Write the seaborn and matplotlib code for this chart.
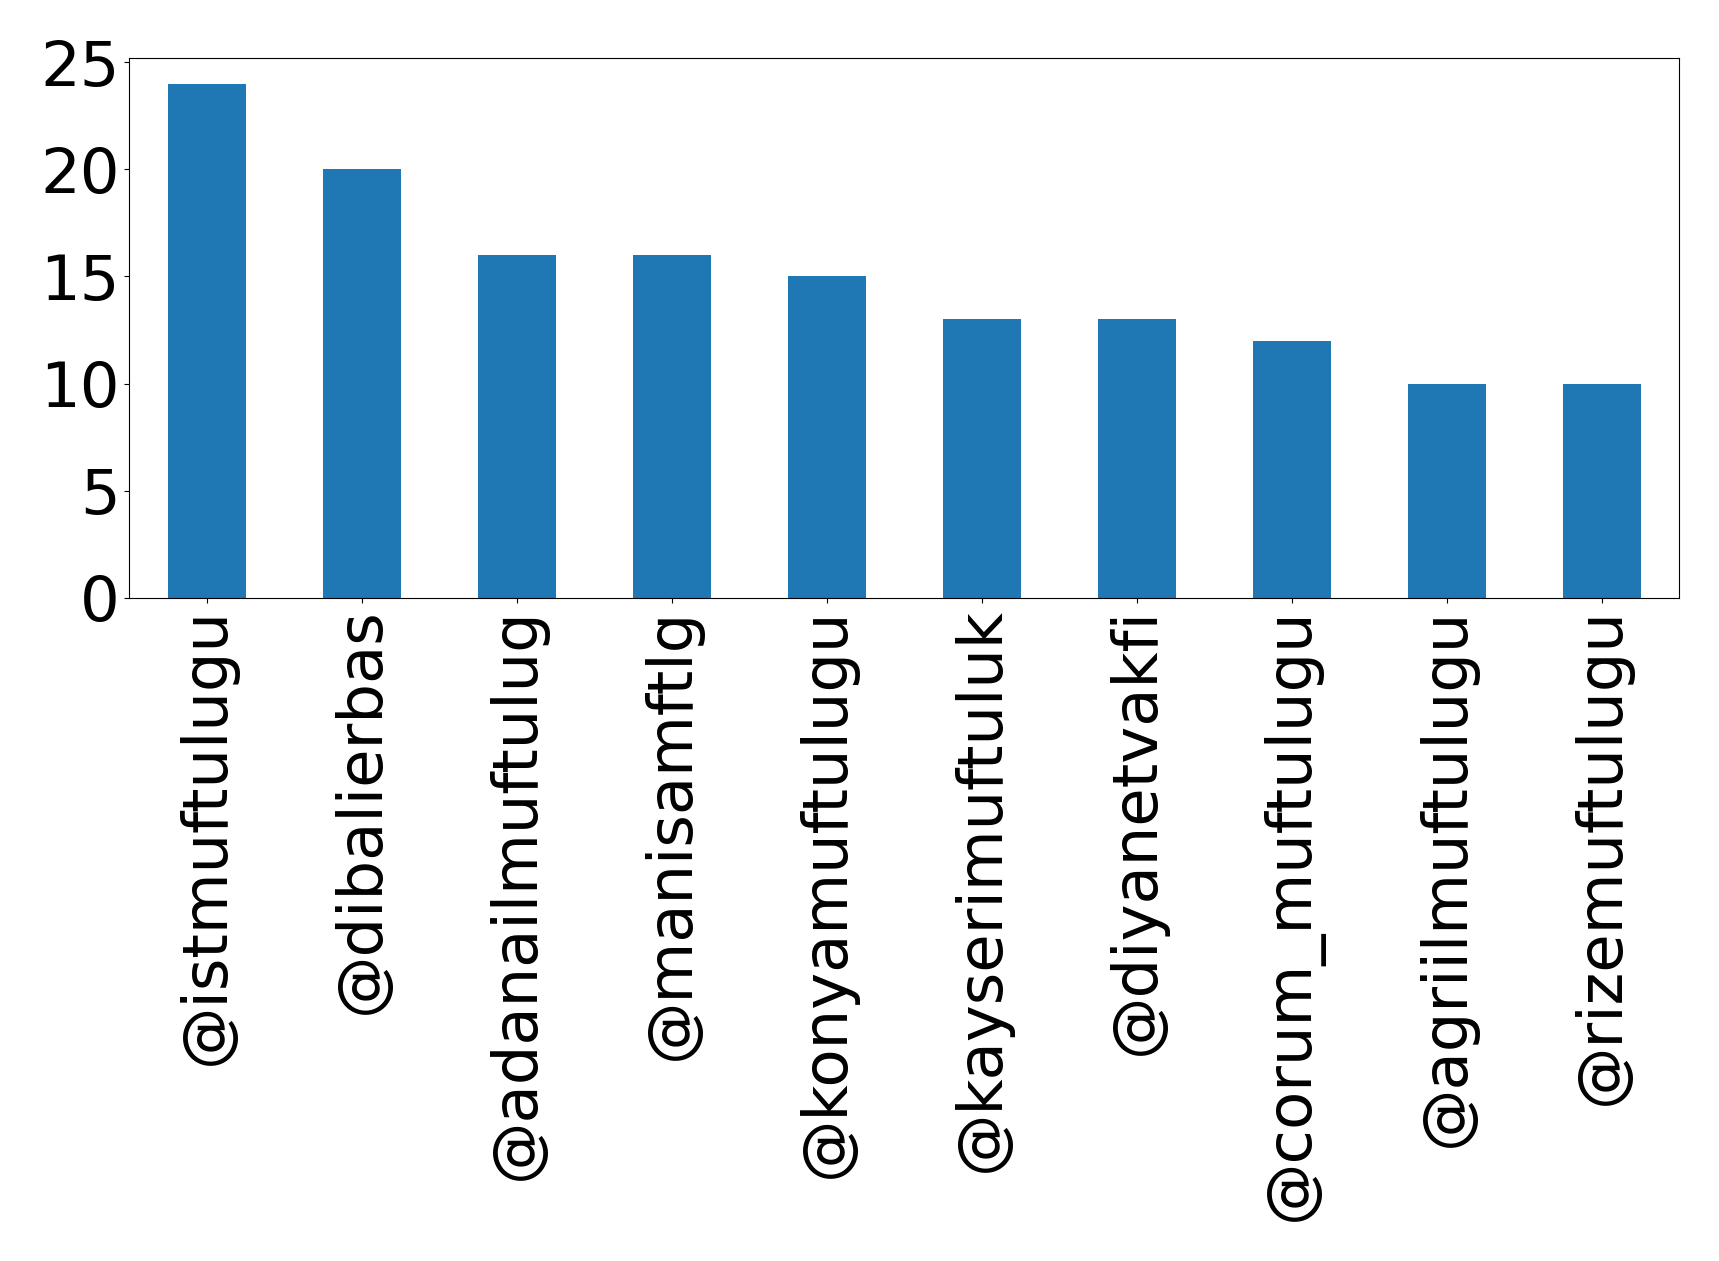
import matplotlib
matplotlib.use("Agg")
import matplotlib.pyplot as plt
from matplotlib.ticker import MultipleLocator
import seaborn as sns
import pandas as pd

accounts = ["@istmuftulugu", "@dibalierbas", "@adanailmuftulug", "@manisamftlg",
            "@konyamuftulugu", "@kayserimuftuluk", "@diyanetvakfi",
            "@corum_muftulugu", "@agriilmuftulugu", "@rizemuftulugu"]
counts = [24, 20, 16, 16, 15, 13, 13, 12, 10, 10]

df = pd.DataFrame({"account": accounts, "count": counts})

fig, ax = plt.subplots(figsize=(17.19, 12.61), dpi=100)
sns.barplot(data=df, x="account", y="count", color="#1f77b4", saturation=1,
            width=0.5, ax=ax)
ax.set_xlim(-0.5, len(accounts) - 0.5)
ax.set_ylim(0, 25.2)
ax.yaxis.set_major_locator(MultipleLocator(5))
ax.set_xlabel("")
ax.set_ylabel("")
ax.tick_params(axis="x", labelrotation=90, labelsize=45)
ax.tick_params(axis="y", labelsize=45)
for s in ax.spines.values():
    s.set_visible(True)
    s.set_color("black")

fig.subplots_adjust(left=0.0752, right=0.977, top=0.954, bottom=0.526)
fig.savefig("out.png", dpi=100)
plt.close()
